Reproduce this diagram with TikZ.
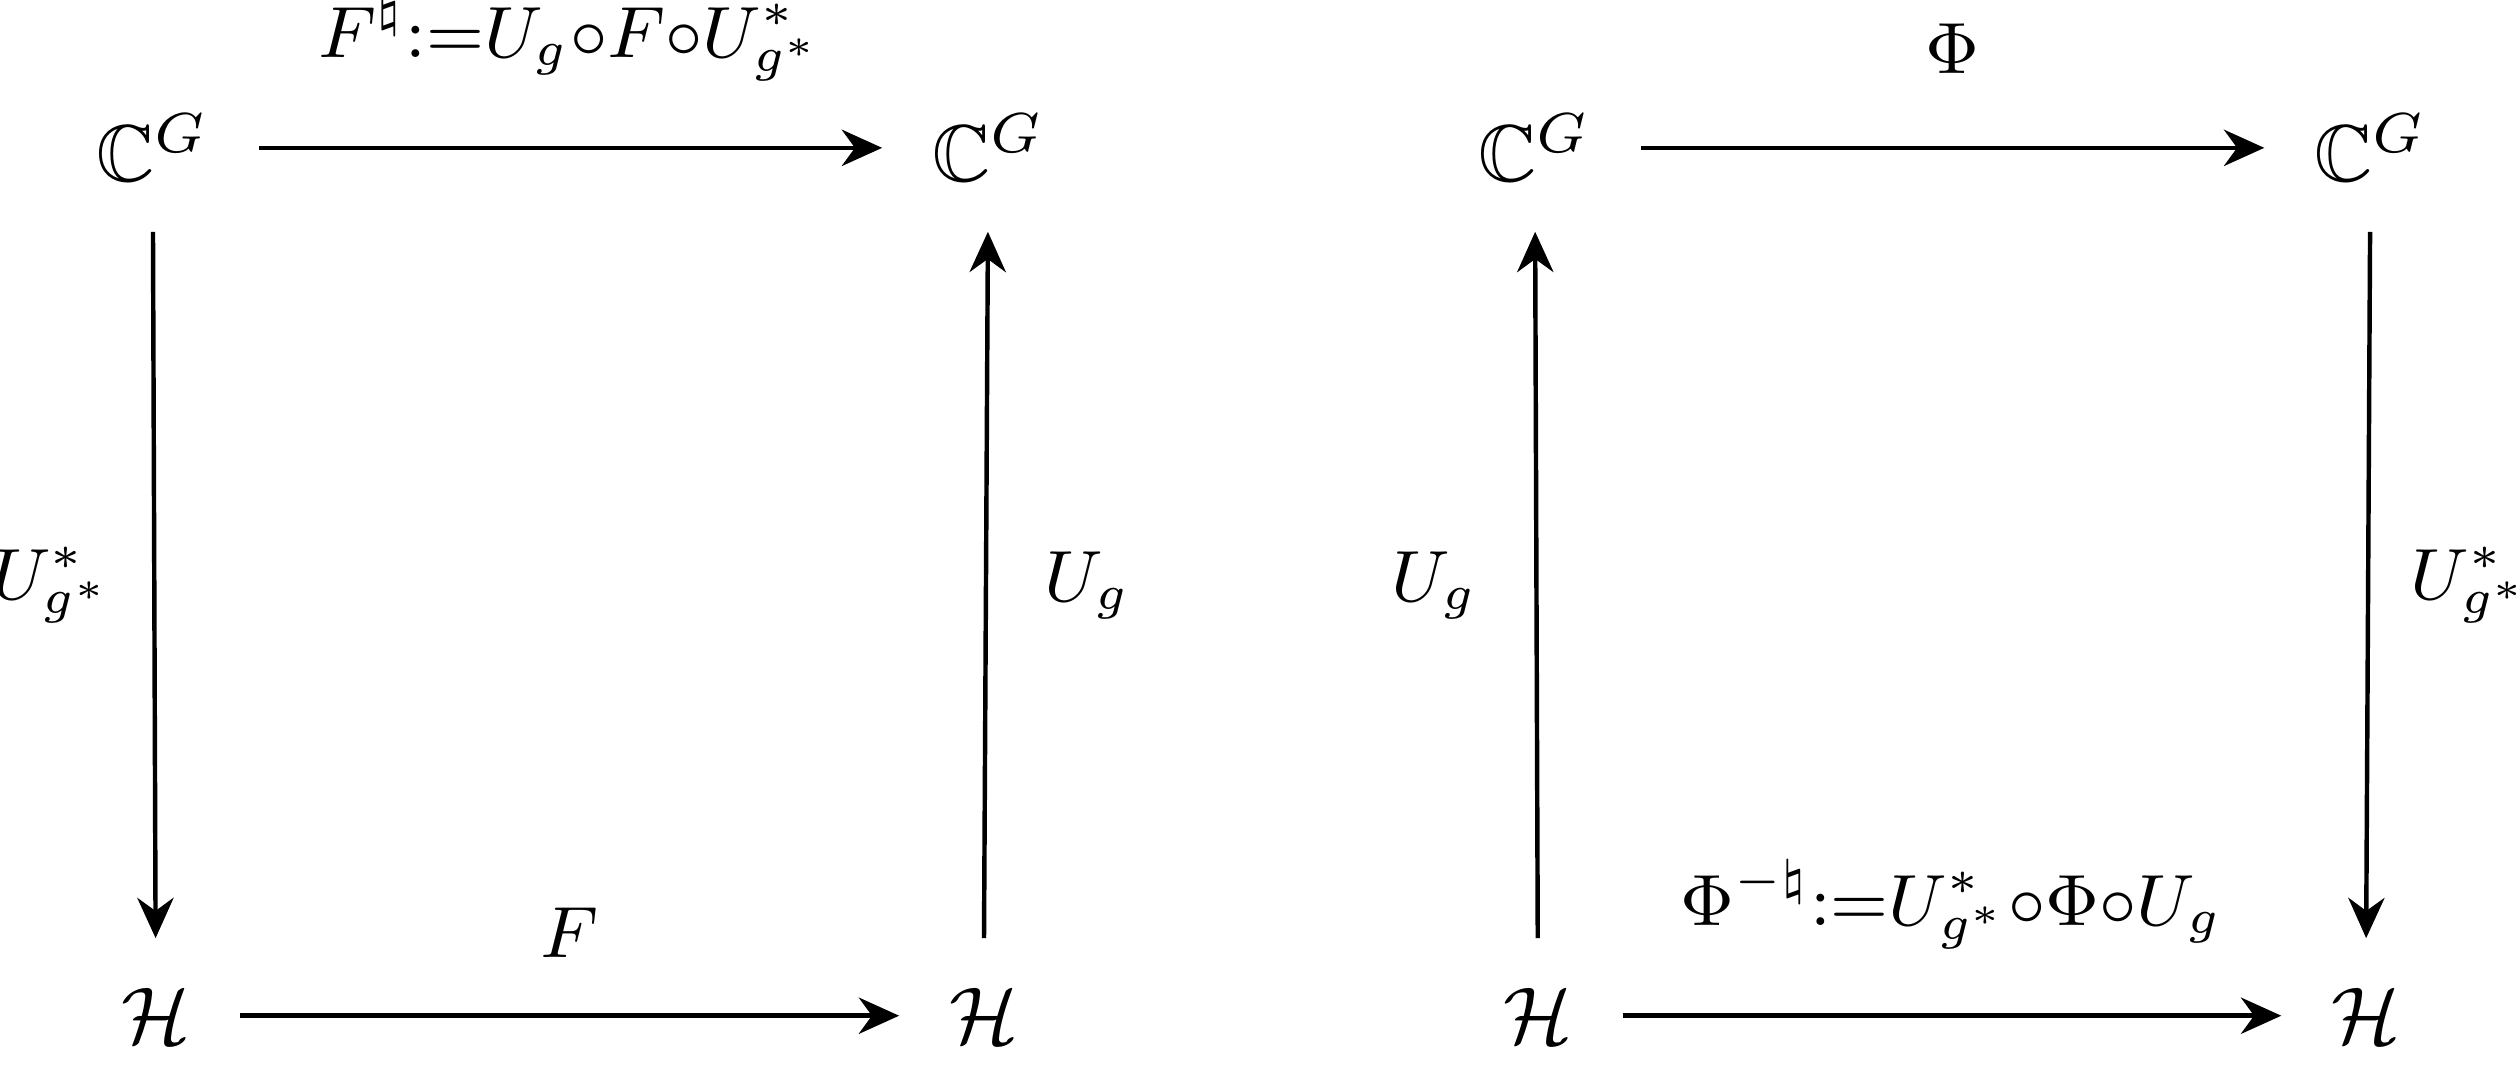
\documentclass[tikz,border=0pt]{standalone}
\usepackage{amssymb}
\usetikzlibrary{arrows.meta}
\begin{document}
\begin{tikzpicture}[x=0.007cm,y=-0.007cm,
  obj/.style={inner sep=6pt},
  arr/.style={-{Stealth[length=5pt,width=4.5pt]},line width=0.55pt},
  lab/.style={font=\small,inner sep=1pt}]
\useasboundingbox (0,0) rectangle (1568,675);
\node[obj] (a1) at (95,92) {$\mathbb{C}^G$};
\node[obj] (a2) at (615,92) {$\mathbb{C}^G$};
\node[obj] (a3) at (97,632) {$\mathcal{H}$};
\node[obj] (a4) at (612,632) {$\mathcal{H}$};
\node[obj] (b1) at (955,92) {$\mathbb{C}^G$};
\node[obj] (b2) at (1475,92) {$\mathbb{C}^G$};
\node[obj] (b3) at (957,632) {$\mathcal{H}$};
\node[obj] (b4) at (1472,632) {$\mathcal{H}$};
\draw[arr] (a1) -- node[lab,above=7pt] {$F^\natural{:=}U_g{\circ}F{\circ}U_{g^*}^*$} (a2);
\draw[arr] (a1) -- node[lab,left=4pt] {$U_{g^*}^*$} (a3);
\draw[arr] (a4) -- node[lab,right=6pt] {$U_g$} (a2);
\draw[arr] (a3) -- node[lab,above=6pt] {$F$} (a4);
\draw[arr] (b1) -- node[lab,above=8pt] {$\Phi$} (b2);
\draw[arr] (b3) -- node[lab,left=6pt] {$U_g$} (b1);
\draw[arr] (b2) -- node[lab,right=4pt] {$U_{g^*}^*$} (b4);
\draw[arr] (b3) -- node[lab,above=7pt] {$\Phi^{-\natural}{:=}U_{g^*}^*{\circ}\Phi{\circ}U_g$} (b4);
\end{tikzpicture}
\end{document}
